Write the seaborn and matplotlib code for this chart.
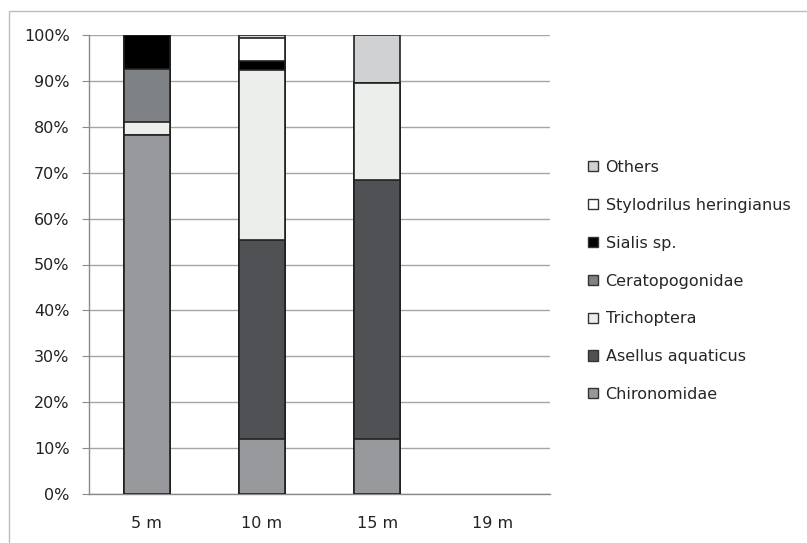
import numpy as np
import pandas as pd
import seaborn as sns
import matplotlib.pyplot as plt
from matplotlib.patches import Patch, Rectangle

# depth classes and taxa (stacked bottom -> top)
depths = ["5 m", "10 m", "15 m", "19 m"]
taxa = ["Chironomidae", "Asellus aquaticus", "Trichoptera", "Ceratopogonidae",
        "Sialis sp.", "Stylodrilus heringianus", "Others"]

# percentages per depth
chironomidae = [78.2, 12.0, 12.0, 0]
asellus = [0, 43.3, 56.5, 0]
trichoptera = [2.8, 37.0, 21.0, 0]
ceratopogonidae = [11.6, 0, 0, 0]
sialis = [7.4, 2.0, 0, 0]
stylodrilus = [0, 5.0, 0, 0]
others = [0, 0.7, 10.5, 0]

colors = ["#97999d", "#505155", "#eceeec", "#7e8284", "#000000", "#ffffff", "#d0d1d3"]

values = [chironomidae, asellus, trichoptera, ceratopogonidae, sialis, stylodrilus, others]
df = pd.DataFrame(np.array(values).T, index=depths, columns=taxa)
cum = df.cumsum(axis=1)

sns.set_style("white")
plt.rcParams['font.family'] = ['DejaVu Sans']
fs = 11.5

fig = plt.figure(figsize=(8.07, 5.43), dpi=100)
ax = fig.add_axes([89 / 807, 49 / 543, 461 / 807, 459 / 543])

# draw cumulative bars from the top layer down so each one covers the rest
for taxon, col in zip(taxa[::-1], colors[::-1]):
    d = cum[taxon].reset_index()
    d.columns = ["depth", "pct"]
    d = d[d["pct"] > 0]
    sns.barplot(data=d, x="depth", y="pct", order=depths, color=col, width=0.4,
                edgecolor="#222222", linewidth=1.2, saturation=1, ax=ax, zorder=3)

ax.set_ylim(0, 100)
ax.set_xlim(-0.5, 3.5)
ax.set_yticks(np.arange(0, 101, 10))
ax.set_yticklabels([f"{v}%" for v in range(0, 101, 10)], fontsize=fs, color="#222222")
ax.set_xticks(range(4))
ax.set_xticklabels(depths, fontsize=fs, color="#222222")
ax.set_xticks(np.arange(-0.5, 3.6, 1), minor=True)
ax.tick_params(axis="x", which="major", length=0, pad=16)
ax.tick_params(axis="x", which="minor", length=5, color="#8a8a8a", direction="out")
ax.tick_params(axis="y", length=5, color="#8a8a8a", direction="out", left=True, pad=9)
ax.set_xlabel("")
ax.set_ylabel("")
ax.yaxis.grid(True, color="#a6a6a6", linewidth=1, zorder=0)
ax.set_axisbelow(True)
for s in ["top", "right"]:
    ax.spines[s].set_visible(False)
for s in ["left", "bottom"]:
    ax.spines[s].set_color("#8a8a8a")
    ax.spines[s].set_linewidth(1)

handles = [Patch(facecolor=c, edgecolor="#333333", linewidth=1) for c in colors]
fig.legend(handles[::-1], taxa[::-1], loc="upper left", bbox_to_anchor=(580 / 807, 1 - 152 / 543),
           frameon=False, fontsize=fs, labelspacing=1.43, handlelength=0.6, handleheight=0.6,
           handletextpad=0.5, borderpad=0)

# outer chart frame
fig.add_artist(Rectangle((9 / 807, -0.05), 1.2, 1.05 - 11 / 543, transform=fig.transFigure,
                         fill=False, edgecolor="#bdbdbd", linewidth=1))

fig.savefig("out.png", dpi=100)
